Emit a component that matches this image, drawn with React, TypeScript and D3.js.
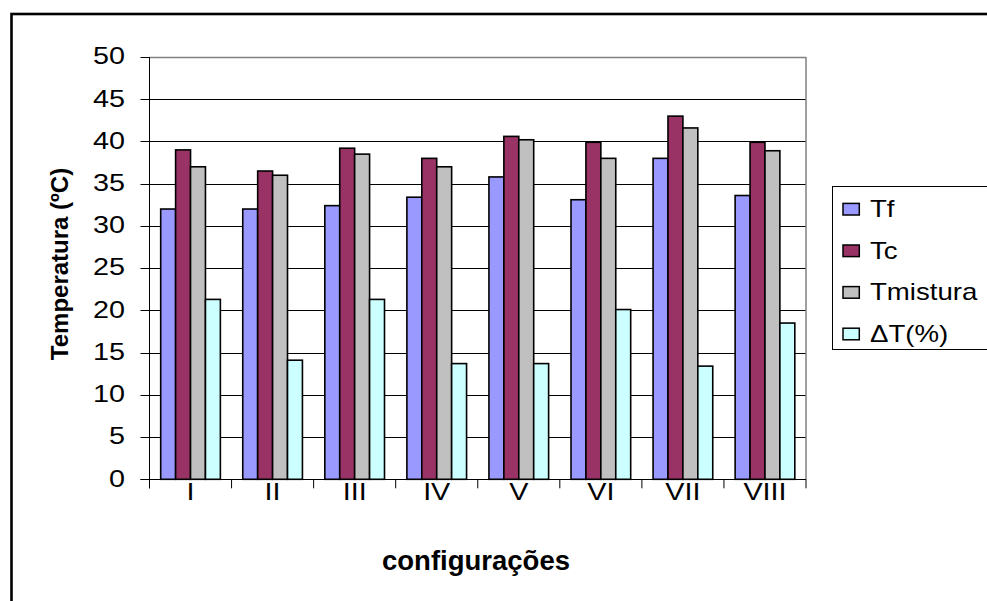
import React from 'react';
import * as d3 from 'd3';

const categories = ['I', 'II', 'III', 'IV', 'V', 'VI', 'VII', 'VIII'];
const seriesNames = ['Tf', 'Tc', 'Tmistura', '\u0394T(%)'];
const tf = [32, 32, 32.4, 33.4, 35.8, 33.1, 38, 33.6];
const tc = [39, 36.5, 39.2, 38, 40.6, 39.9, 43, 39.9];
const tmistura = [37, 36, 38.5, 37, 40.2, 38, 41.6, 38.9];
const deltaT = [21.3, 14.1, 21.3, 13.7, 13.7, 20.1, 13.4, 18.5];
const seriesColors = ['#9999FF', '#993366', '#C0C0C0', '#CCFFFF'];

const W = 987;
const H = 601;
const plot = { left: 149.5, right: 806, top: 57, bottom: 479.3 };
const SX = 1.25; // text in the picture is drawn wide

const App = () => {
  const values = [tf, tc, tmistura, deltaT];

  const x0 = d3.scaleBand().domain(categories).range([plot.left, plot.right]).padding(0);
  const x1 = d3.scaleBand()
    .domain(seriesNames)
    .range([0, x0.bandwidth()])
    .paddingInner(0)
    .paddingOuter(0.75);
  const y = d3.scaleLinear().domain([0, 50]).range([plot.bottom, plot.top]);
  const yTicks = y.ticks(10);

  const font = 'Arial, "Liberation Sans", sans-serif';

  return (
    <svg width={W} height={H} style={{ position: 'absolute', left: 0, top: 0, background: '#fff' }}>
      {/* outer frame */}
      <rect x={11.5} y={14} width={1100} height={700} fill="#fff" stroke="#000" strokeWidth={2.6} />

      {/* grid */}
      {yTicks.map(t => (
        <line key={'g' + t}
          x1={plot.left} x2={plot.right}
          y1={Math.round(y(t)) + 0.5} y2={Math.round(y(t)) + 0.5}
          stroke={t === 50 ? '#808080' : '#000'} strokeWidth={t === 50 ? 1.5 : 1} />
      ))}
      <line x1={plot.right} x2={plot.right} y1={plot.top} y2={plot.bottom} stroke="#808080" strokeWidth={1.5} />

      {/* bars */}
      {categories.map((c, i) => (
        <g key={c} transform={`translate(${x0(c)},0)`}>
          {seriesNames.map((s, k) => (
            <rect key={s}
              x={x1(s)} width={x1.bandwidth()}
              y={y(values[k][i])} height={y(0) - y(values[k][i])}
              fill={seriesColors[k]} stroke="#000" strokeWidth={1.6} />
          ))}
        </g>
      ))}

      {/* axes */}
      <line x1={plot.left} x2={plot.left} y1={plot.top} y2={plot.bottom + 9} stroke="#000" strokeWidth={1} />
      <line x1={plot.left - 9} x2={plot.right} y1={Math.round(y(0)) + 0.5} y2={Math.round(y(0)) + 0.5} stroke="#000" strokeWidth={1} />
      {yTicks.map(t => (
        <g key={'t' + t}>
          <line x1={plot.left - 9} x2={plot.left} y1={Math.round(y(t)) + 0.5} y2={Math.round(y(t)) + 0.5} stroke="#000" />
          <text transform={`translate(125,${y(t) + 7.3}) scale(${SX},1)`}
            textAnchor="end" fontFamily={font} fontSize={23} fill="#000">{t}</text>
        </g>
      ))}
      {categories.concat(['']).map((c, i) => {
        const bx = plot.left + i * x0.step();
        return <line key={'xt' + i} x1={bx} x2={bx} y1={plot.bottom} y2={plot.bottom + 9} stroke="#000" />;
      })}
      {categories.map(c => (
        <text key={'xl' + c}
          transform={`translate(${(x0(c) as number) + x0.bandwidth() / 2},${499.5}) scale(${SX},1)`}
          textAnchor="middle" fontFamily={font} fontSize={23} fill="#000">{c}</text>
      ))}

      {/* axis titles */}
      <text transform={`translate(68.3,264) rotate(-90)`}
        textAnchor="middle" fontFamily={font} fontWeight="bold" fontSize={24} fill="#000">
        Temperatura (ºC)
      </text>
      <text x={476} y={570} textAnchor="middle" fontFamily={font} fontWeight="bold" fontSize={27.5} fill="#000">
        configurações
      </text>

      {/* legend */}
      <rect x={832.5} y={186.5} width={200} height={163} fill="#fff" stroke="#000" strokeWidth={1} />
      {seriesNames.map((s, k) => {
        const cy = 209.2 + k * 41.6;
        return (
          <g key={'lg' + s}>
            <rect x={843} y={cy - 5.8} width={16.3} height={11.6} fill={seriesColors[k]} stroke="#000" strokeWidth={1.5} />
            <text transform={`translate(870,${cy + 8}) scale(1.2,1)`} fontFamily={font} fontSize={23} fill="#000">{s}</text>
          </g>
        );
      })}
    </svg>
  );
};

export default App;
